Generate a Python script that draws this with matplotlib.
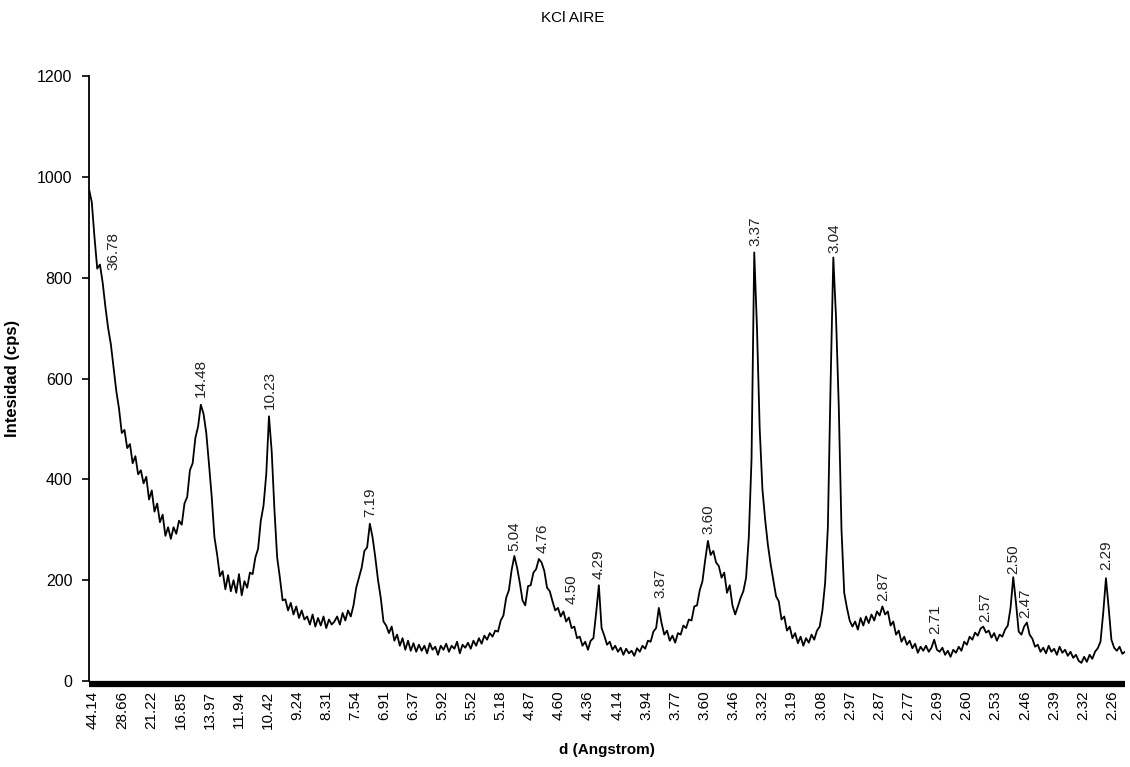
import numpy as np
import matplotlib
matplotlib.use('Agg')
import matplotlib.pyplot as plt

plt.rcParams['font.family'] = ['Liberation Sans', 'DejaVu Sans']

# Datos del difractograma (2theta en grados, paso 0.1)
theta_start = 2.0
theta_step = 0.1
counts = [
    975, 950, 880, 818, 826, 790, 742, 700, 668, 622,   # 2
    575, 540, 492, 498, 462, 470, 432, 446, 410, 418,   # 3
    392, 405, 360, 378, 336, 352, 315, 330, 288, 305,   # 4
    282, 305, 292, 318, 310, 352, 365, 418, 432, 482,   # 5
    505, 548, 530, 492, 430, 365, 285, 250, 208, 218,   # 6
    182, 210, 178, 200, 175, 212, 170, 198, 185, 215,   # 7
    212, 245, 262, 318, 348, 410, 525, 455, 340, 245,   # 8
    205, 160, 162, 140, 155, 132, 148, 125, 140, 122,   # 9
    128, 112, 132, 108, 125, 110, 128, 105, 122, 112,   # 10
    118, 128, 112, 135, 120, 140, 128, 150, 185, 205,   # 11
    225, 258, 265, 312, 285, 245, 200, 165, 118, 110,   # 12
    95, 108, 80, 92, 70, 85, 62, 80, 60, 75,            # 13
    58, 72, 60, 70, 55, 75, 62, 68, 52, 70,             # 14
    62, 74, 58, 70, 64, 78, 55, 72, 66, 76,             # 15
    64, 80, 70, 85, 74, 90, 82, 95, 88, 100,            # 16
    98, 120, 130, 165, 180, 220, 248, 225, 195, 160,    # 17
    150, 188, 190, 215, 222, 242, 235, 218, 185, 178,   # 18
    158, 140, 145, 128, 138, 118, 126, 105, 108, 85,    # 19
    88, 70, 78, 62, 80, 85, 135, 190, 105, 90,          # 20
    72, 78, 62, 70, 58, 66, 52, 64, 55, 60,             # 21
    50, 65, 58, 70, 64, 80, 78, 98, 105, 145,           # 22
    115, 92, 100, 80, 90, 76, 95, 92, 110, 105,         # 23
    122, 120, 148, 150, 180, 198, 240, 278, 250, 258,   # 24
    235, 228, 205, 215, 175, 190, 150, 132, 148, 165,   # 25
    178, 205, 285, 440, 850, 700, 500, 380, 320, 270,   # 26
    232, 200, 168, 158, 122, 128, 100, 108, 85, 95,     # 27
    75, 88, 70, 85, 76, 92, 82, 100, 108, 140,          # 28
    195, 305, 590, 840, 720, 545, 300, 175, 145, 120,   # 29
    108, 118, 102, 125, 110, 128, 115, 132, 120, 138,   # 30
    130, 148, 132, 138, 110, 118, 92, 100, 78, 88,      # 31
    72, 80, 65, 74, 56, 68, 60, 70, 58, 66,             # 32
    82, 62, 58, 66, 52, 60, 48, 62, 56, 68,             # 33
    60, 78, 72, 88, 82, 96, 90, 104, 108, 96,           # 34
    100, 86, 95, 80, 92, 88, 102, 110, 145, 206,        # 35
    155, 98, 92, 108, 116, 92, 84, 68, 72, 58,          # 36
    66, 55, 70, 58, 64, 52, 68, 56, 62, 50,             # 37
    58, 46, 52, 40, 36, 48, 38, 52, 44, 58,             # 38
    65, 78, 135, 204, 145, 82, 66, 60, 68, 54,          # 39
    58,                                                 # 40
]

# Etiquetas del eje x (espaciado d)
d_ticks = ['44.14', '28.66', '21.22', '16.85', '13.97', '11.94', '10.42', '9.24',
           '8.31', '7.54', '6.91', '6.37', '5.92', '5.52', '5.18', '4.87', '4.60',
           '4.36', '4.14', '3.94', '3.77', '3.60', '3.46', '3.32', '3.19', '3.08',
           '2.97', '2.87', '2.77', '2.69', '2.60', '2.53', '2.46', '2.39', '2.32',
           '2.26']

# Picos marcados y altura del punto etiquetado
peak_d = [36.78, 14.48, 10.23, 7.19, 5.04, 4.76, 4.50, 4.29, 3.87, 3.60,
          3.37, 3.04, 2.87, 2.71, 2.57, 2.50, 2.47, 2.29]
peak_counts = [805, 552, 528, 315, 246, 242, 141, 192, 153, 280,
               851, 837, 147, 83, 107, 202, 113, 210]

WAVELENGTH = 1.5406  # Cu K-alpha


def d_to_2theta(d):
    """Ley de Bragg: espaciado d -> 2theta (grados)"""
    return 2 * np.degrees(np.arcsin(WAVELENGTH / (2 * np.asarray(d))))


def main():
    fig = plt.figure(figsize=(11.3, 7.67), dpi=100)
    ax = fig.add_axes([0.0788, 0.1121, 0.9168, 0.7888])

    # ejes: primero los spines (set_position reinicia los ticks)
    ax.spines['top'].set_visible(False)
    ax.spines['right'].set_visible(False)
    ax.spines['left'].set_linewidth(1.3)
    ax.spines['bottom'].set_linewidth(4.5)
    ax.spines['bottom'].set_position(('outward', 2))
    ax.spines['bottom'].set_capstyle('butt')

    two_theta = theta_start + theta_step * np.arange(len(counts))
    ax.plot(two_theta, counts, color='black', linewidth=1.3)

    ax.set_xlim(2.0, 40.0)
    ax.set_ylim(0, 1200)

    # etiquetas de picos
    for d, c in zip(peak_d, peak_counts):
        x = d_to_2theta(d)
        dx = 10 if d > 30 else 0
        ax.annotate(f'{d:.2f}', xy=(x, c), xytext=(dx, 4), textcoords='offset points',
                    rotation=90, ha='center', va='bottom', fontsize=11, color='#222222')

    # eje x: etiquetas d, con barra gruesa inferior
    ax.set_xticks(np.linspace(2.147, 39.53, len(d_ticks)))
    ax.set_xticklabels(d_ticks, fontsize=11)
    ax.tick_params(axis='x', length=0, pad=5, labelrotation=90)
    ax.set_yticks(range(0, 1201, 200))
    ax.tick_params(axis='y', length=5, width=1.2, labelsize=11.5, pad=7, direction='out')

    ax.set_xlabel('d (Angstrom)', fontsize=11, fontweight='bold', labelpad=10)
    ax.set_ylabel('Intesidad (cps)', fontsize=12, fontweight='bold', labelpad=12)
    fig.text(0.507, 0.977, 'KCl AIRE', ha='center', va='center', fontsize=11)

    fig.savefig('out.png', dpi=100)


if __name__ == '__main__':
    main()
